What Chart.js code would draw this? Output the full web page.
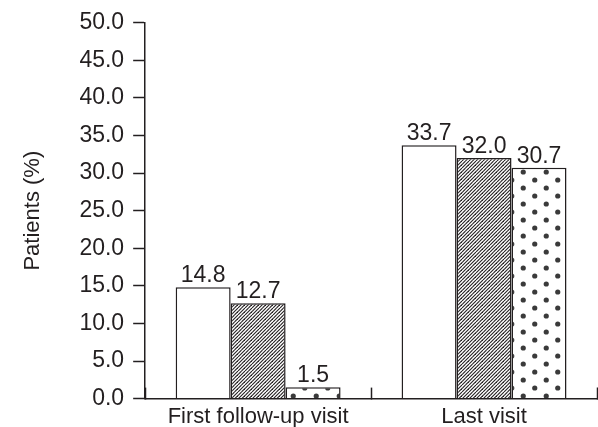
<!DOCTYPE html>
<html>
<head>
<meta charset="utf-8">
<script src="https://cdn.jsdelivr.net/npm/chart.js@4"></script>
<style>
  html, body { margin: 0; padding: 0; background: #fff; }
  #wrap { width: 598px; height: 427px; position: relative; }
</style>
</head>
<body>
<div id="wrap"><canvas id="barChart"></canvas></div>
<script>
// values
const categories = ["First follow-up visit", "Last visit"];
const seriesOpen = [14.8, 33.7];
const seriesHatched = [12.7, 32.0];
const seriesDotted = [1.5, 30.7];
const yMin = 0, yMax = 50, yStep = 5;

const ink = "#231f20";
const fontFamily = "'Liberation Sans', Arial, Helvetica, sans-serif";
const textSize = 22;   // category labels, axis title
const numSize = 23;    // tick and value labels

// diagonal hatching
function hatchPattern() {
  const c = document.createElement("canvas");
  c.width = 7; c.height = 7;
  const g = c.getContext("2d");
  g.fillStyle = "#fff";
  g.fillRect(0, 0, 7, 7);
  g.strokeStyle = ink;
  g.lineWidth = 1.1;
  for (let k = -7; k <= 7; k += 3.5) {
    g.beginPath();
    g.moveTo(k, 7);
    g.lineTo(k + 7, 0);
    g.stroke();
  }
  return g.createPattern(c, "repeat");
}

// staggered dots
function dotPattern() {
  const c = document.createElement("canvas");
  c.width = 23; c.height = 16;
  const g = c.getContext("2d");
  g.fillStyle = "#fff";
  g.fillRect(0, 0, 23, 16);
  g.fillStyle = "#3a3a3a";
  [[5.75, 4], [17.25, 12]].forEach(function (p) {
    g.beginPath();
    g.arc(p[0], p[1], 2.6, 0, Math.PI * 2);
    g.fill();
  });
  return g.createPattern(c, "repeat");
}

// value labels on top of the bars
const valueLabels = {
  id: "valueLabels",
  afterDatasetsDraw(chart) {
    const ctx = chart.ctx;
    ctx.save();
    ctx.font = numSize + "px " + fontFamily;
    ctx.fillStyle = ink;
    ctx.textAlign = "center";
    ctx.textBaseline = "bottom";
    chart.data.datasets.forEach(function (ds, i) {
      chart.getDatasetMeta(i).data.forEach(function (bar, j) {
        ctx.fillText(ds.data[j].toFixed(1), bar.x, bar.y);
      });
    });
    ctx.restore();
  }
};

const ctx = document.getElementById("barChart").getContext("2d");
const common = { borderColor: ink, borderWidth: 1.5, borderSkipped: "bottom" };

new Chart(ctx, {
  type: "bar",
  data: {
    labels: categories,
    datasets: [
      Object.assign({ label: "Open", data: seriesOpen, backgroundColor: "#fff" }, common),
      Object.assign({ label: "Hatched", data: seriesHatched, backgroundColor: hatchPattern() }, common),
      Object.assign({ label: "Dotted", data: seriesDotted, backgroundColor: dotPattern() }, common),
    ],
  },
  options: {
    responsive: true,
    maintainAspectRatio: false,
    animation: false,
    layout: { padding: { top: 17, right: 1, left: 0, bottom: -19 } },
    plugins: {
      legend: { display: false },
      tooltip: { enabled: false },
    },
    datasets: {
      bar: { barPercentage: 1, categoryPercentage: 0.73 },
    },
    scales: {
      x: {
        grid: {
          offset: true,
          drawOnChartArea: false,
          drawTicks: true,
          tickLength: -11,
          tickColor: ink,
          tickWidth: 1.5,
        },
        border: { display: true, color: ink, width: 1.5 },
        ticks: { color: ink, font: { size: textSize, family: fontFamily }, padding: 16 },
      },
      y: {
        min: yMin,
        max: yMax,
        ticks: {
          stepSize: yStep,
          color: ink,
          padding: 9,
          font: { size: numSize, family: fontFamily },
          callback: function (v) { return Number(v).toFixed(1); },
        },
        grid: {
          drawOnChartArea: false,
          drawTicks: true,
          tickLength: 12,
          tickColor: ink,
          tickWidth: 1.5,
        },
        border: { display: true, color: ink, width: 1.5 },
        title: {
          display: true,
          text: "Patients (%)",
          color: ink,
          font: { size: textSize, family: fontFamily },
          padding: { top: 20, bottom: 24 },
        },
      },
    },
  },
  plugins: [valueLabels],
});
</script>
</body>
</html>
